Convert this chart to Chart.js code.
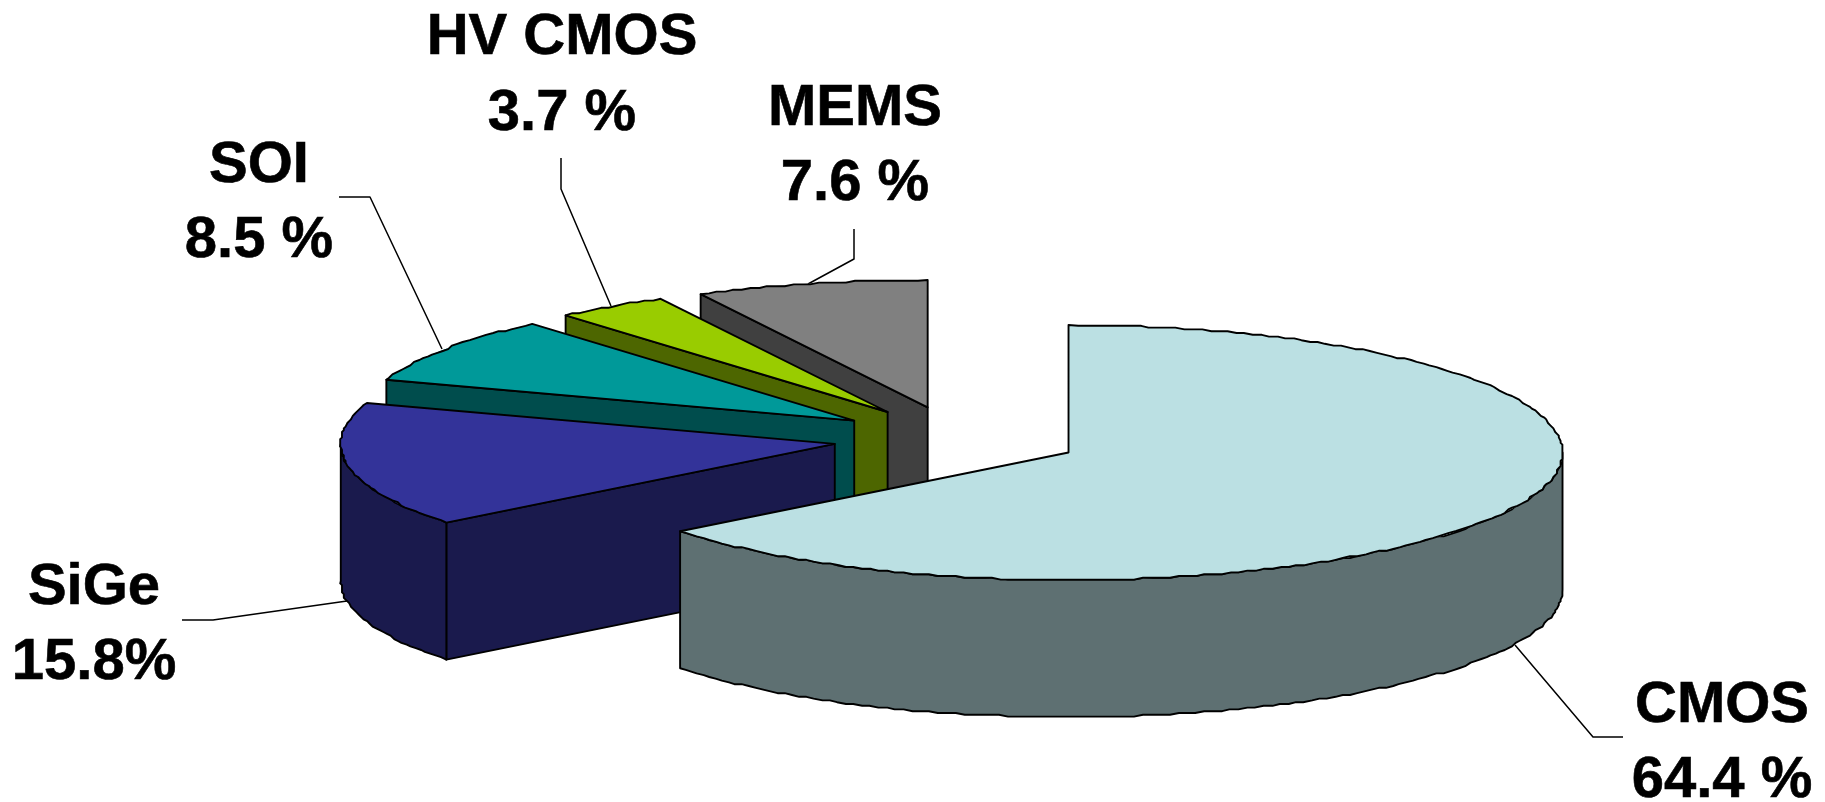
<!DOCTYPE html>
<html>
<head>
<meta charset="utf-8">
<title>Technology split</title>
<script src="https://cdn.jsdelivr.net/npm/chart.js@4"></script>
<style>
  html, body { margin: 0; padding: 0; background: #fff; }
  canvas { display: block; }
</style>
</head>
<body>
<canvas id="techPie" width="1825" height="802"></canvas>
<script>
const technologies = ['CMOS', 'SiGe', 'SOI', 'HV CMOS', 'MEMS'];
const shares = [64.4, 15.8, 8.5, 3.7, 7.6];
const shareLabels = ['64.4 %', '15.8%', '8.5 %', '3.7 %', '7.6 %'];
const topColors = ['#BBE0E3', '#333399', '#009999', '#99CC00', '#808080'];
const wallColors = ['#5E7072', '#1A1A4D', '#004D4D', '#4D6600', '#404040'];

// pie look: squashed disc with a thick rim, every slice pulled out of the centre
const pieRadius = 494;
const tilt = 0.258;
const rimDepth = 137;
const explode = 124;
const outlineWidth = 1.9;
const rimStep = 1.8;    // rim points snap to this grid, gives the stepped edge
const labelFont = 'bold 58px "Liberation Sans", Arial, sans-serif';

// text centre and the two baselines for each slice label
const labelSpots = [
  {x: 1722, name: 722, share: 797},
  {x: 94, name: 604, share: 679},
  {x: 259, name: 182, share: 257},
  {x: 562, name: 54, share: 130},
  {x: 855, name: 125, share: 200}
];
const leaders = [
  [[1623, 737], [1593, 737], [1515, 645]],
  [[182, 620], [213, 620], [347, 601]],
  [[339, 197], [370, 197], [442, 349]],
  [[561, 158], [561, 189], [611, 306]],
  [[854, 229], [854, 259], [808, 284]]
];

function sliceOrigin(arc) {
  const mid = (arc.startAngle + arc.endAngle) / 2;
  return {
    x: arc.x + Math.cos(mid) * explode,
    y: arc.y + Math.sin(mid) * explode * tilt
  };
}

function edgePoint(o, r, angle) {
  return {x: o.x + Math.cos(angle) * r, y: o.y + Math.sin(angle) * r * tilt};
}

// walks the rim from one angle to another as a short stepped polyline
function traceRim(ctx, o, r, from, to, drop) {
  const count = Math.max(2, Math.round(Math.abs(to - from) * r / 9));
  for (let i = 0; i <= count; i++) {
    const p = edgePoint(o, r, from + (to - from) * i / count);
    const ends = i === 0 || i === count;
    const x = ends ? p.x : Math.round(p.x / rimStep) * rimStep;
    const y = ends ? p.y : Math.round(p.y / rimStep) * rimStep;
    ctx.lineTo(x, y + drop);
  }
}

function fillAndOutline(ctx, color) {
  ctx.fillStyle = color;
  ctx.fill();
  ctx.stroke();
}

function drawCutWall(ctx, o, r, angle, color) {
  const p = edgePoint(o, r, angle);
  ctx.beginPath();
  ctx.moveTo(o.x, o.y);
  ctx.lineTo(p.x, p.y);
  ctx.lineTo(p.x, p.y + rimDepth);
  ctx.lineTo(o.x, o.y + rimDepth);
  ctx.closePath();
  fillAndOutline(ctx, color);
}

function drawSlice(ctx, arc, wallColor) {
  const o = sliceOrigin(arc);
  const r = arc.outerRadius;
  const a0 = arc.startAngle;
  const a1 = arc.endAngle;

  // only the cut faces turned towards the viewer
  if (Math.cos(a0) < 0) drawCutWall(ctx, o, r, a0, wallColor);
  if (Math.cos(a1) > 0) drawCutWall(ctx, o, r, a1, wallColor);

  // outer rim, front half of the ellipse only
  const from = Math.max(a0, 0);
  const to = Math.min(a1, Math.PI);
  if (to > from) {
    ctx.beginPath();
    traceRim(ctx, o, r, from, to, 0);
    traceRim(ctx, o, r, to, from, rimDepth);
    ctx.closePath();
    fillAndOutline(ctx, wallColor);
  }

  // top face comes from the arc element itself, squashed
  ctx.save();
  ctx.translate(o.x, o.y);
  ctx.scale(1, tilt);
  ctx.translate(-arc.x, -arc.y);
  arc.draw(ctx);
  ctx.restore();

  // stepped outline on top, filled so the steps keep the slice colour
  ctx.beginPath();
  ctx.moveTo(o.x, o.y);
  traceRim(ctx, o, r, a0, a1, 0);
  ctx.closePath();
  fillAndOutline(ctx, arc.options.backgroundColor);
}

const tiltedPie = {
  id: 'tiltedPie',
  beforeDatasetsDraw(chart) {
    const ctx = chart.ctx;
    const arcs = chart.getDatasetMeta(0).data;
    ctx.save();
    ctx.strokeStyle = '#000';
    ctx.lineJoin = 'round';

    ctx.lineWidth = 1.5;
    leaders.forEach(points => {
      ctx.beginPath();
      points.forEach((p, i) => i ? ctx.lineTo(p[0], p[1]) : ctx.moveTo(p[0], p[1]));
      ctx.stroke();
    });

    // back to front: last slice sits at the back of the disc
    ctx.lineWidth = outlineWidth;
    for (let i = arcs.length - 1; i >= 0; i--) {
      drawSlice(ctx, arcs[i], wallColors[i]);
    }
    ctx.restore();
    return false;
  },
  afterDraw(chart) {
    const ctx = chart.ctx;
    ctx.save();
    ctx.font = labelFont;
    ctx.fillStyle = '#000';
    ctx.strokeStyle = '#000';
    ctx.lineWidth = 0.6;
    ctx.textAlign = 'center';
    ctx.textBaseline = 'alphabetic';
    labelSpots.forEach((spot, i) => {
      ctx.fillText(technologies[i], spot.x, spot.name);
      ctx.strokeText(technologies[i], spot.x, spot.name);
      ctx.fillText(shareLabels[i], spot.x, spot.share);
      ctx.strokeText(shareLabels[i], spot.x, spot.share);
    });
    ctx.restore();
  }
};

new Chart('techPie', {
  type: 'pie',
  data: {
    labels: technologies,
    datasets: [{
      data: shares,
      backgroundColor: topColors,
      borderWidth: 0,
      clip: false
    }]
  },
  options: {
    responsive: false,
    animation: false,
    radius: pieRadius,
    layout: {padding: {left: 89, top: 75}},
    plugins: {
      legend: {display: false},
      tooltip: {enabled: false}
    }
  },
  plugins: [tiltedPie]
});
</script>
</body>
</html>
